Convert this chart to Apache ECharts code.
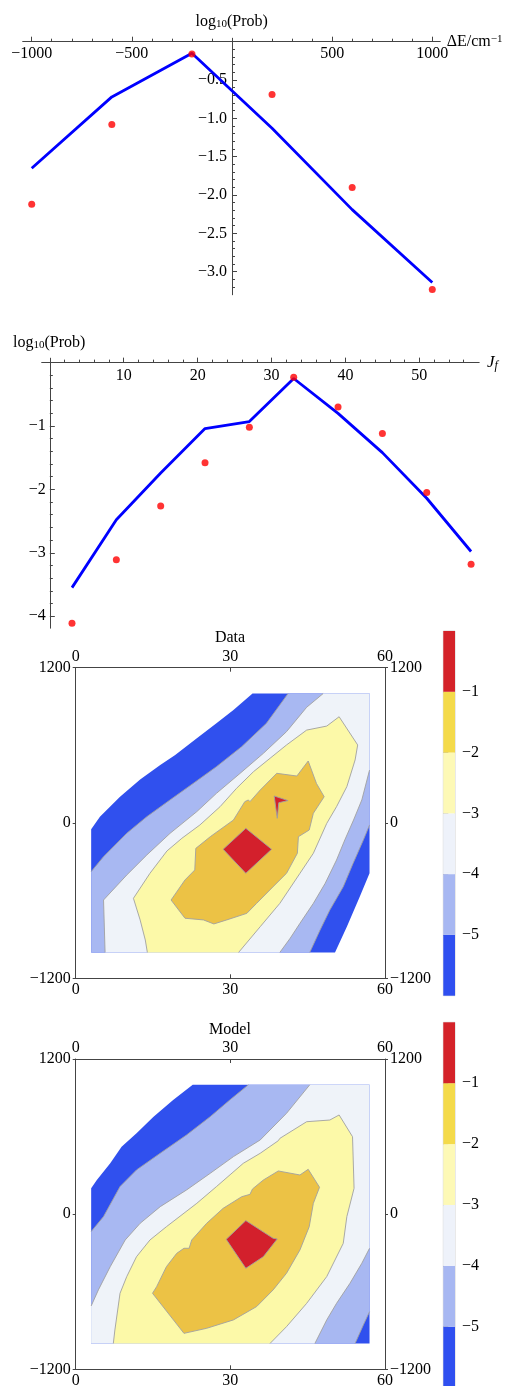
<!DOCTYPE html>
<html><head><meta charset="utf-8">
<script src="https://cdn.jsdelivr.net/npm/echarts@6/dist/echarts.min.js"></script>
<style>html,body{margin:0;padding:0;background:#fff}#c{width:505px;height:1386px}</style>
</head><body><div id="c"></div><script>
// ---------- Panel 1: log10(Prob) vs ΔE ----------
const dE = [-1000, -600, -200, 200, 600, 1000];
const dEModel = [-1.65, -0.72, -0.15, -1.13, -2.19, -3.14];
const dEData = [-2.12, -1.08, -0.16, -0.69, -1.90, -3.23];
const dETicksMajor = [-1000, -500, 500, 1000];
const dETicksMinor = [-900,-800,-700,-600,-400,-300,-200,-100,100,200,300,400,600,700,800,900];
const p1YMajor = [-3, -2.5, -2, -1.5, -1, -0.5];
const p1YMinor = [-3.2,-3.1,-2.9,-2.8,-2.7,-2.6,-2.4,-2.3,-2.2,-2.1,-1.9,-1.8,-1.7,-1.6,-1.4,-1.3,-1.2,-1.1,-0.9,-0.8,-0.7,-0.6,-0.4,-0.3,-0.2,-0.1];

// ---------- Panel 2: log10(Prob) vs J_f ----------
const Jf = [3, 9, 15, 21, 27, 33, 39, 45, 51, 57];
const JfModel = [-3.55, -2.48, -1.74, -1.04, -0.93, -0.25, -0.80, -1.42, -2.14, -2.98];
const JfData = [-4.11, -3.11, -2.26, -1.58, -1.02, -0.23, -0.70, -1.12, -2.05, -3.18];
const JTicksMajor = [10, 20, 30, 40, 50];
const JTicksMinor = [2,4,6,8,12,14,16,18,22,24,26,28,32,34,36,38,42,44,46,48,52,54,56];
const p2YMajor = [-4, -3, -2, -1];
const p2YMinor = [-3.8,-3.6,-3.4,-3.2,-2.8,-2.6,-2.4,-2.2,-1.8,-1.6,-1.4,-1.2,-0.8,-0.6,-0.4,-0.2];

// ---------- Contour plots (J, ΔE) ----------
const contourLevels = [-6, -5, -4, -3, -2, -1, 0];
const barTicks = [-5, -4, -3, -2, -1];
const fillColors = ['#3050ee', '#a8b8f2', '#eff3f9', '#fcf9a8', '#ecc245', '#d3202c'];
const barColors = ['#2f4ff0', '#a7b7f2', '#eef2fa', '#fdf9b6', '#f4da4a', '#d42229'];
const dataRange = {j0: 3, j1: 57, e0: -1000, e1: 1000};

// Data contours
const dataEdgeA = [[3,-49],[4.7,49],[8.6,203],[12.5,337],[16.4,448],[19.3,525],[23.5,654],[27.3,770],[30.6,873],[34.3,1000]];
const dataEdgeF = [[57,-389],[55.1,-569],[52.6,-801],[50.3,-1000]];
const dataLineB = [[3,-376],[5.4,-260],[9.9,-80],[13.8,49],[18.3,178],[22.8,306],[27.3,435],[32.2,590],[37.0,770],[41.2,1000]];
const dataLineG = [[57,-15],[55.8,-131],[53.8,-312],[51.9,-492],[49.3,-672],[47.4,-827],[45.4,-1000]];
const dataLineC = [[5.7,-1000],[5.4,-595],[9.9,-402],[13.8,-247],[18.3,-80],[23.5,88],[27.3,229],[31.9,384],[36.4,538],[40.9,706],[44.8,894],[48.0,1000]];
const dataLineH = [[57,409],[55.5,178],[53.9,23],[52.2,-131],[50.6,-286],[48.4,-466],[46.1,-621],[43.5,-775],[41.6,-891],[39.6,-1000]];
const dataLineD = [[13.9,-1000],[13.5,-904],[12.5,-749],[11.2,-582],[14.4,-389],[17.7,-216],[20.6,-118],[24.1,-15],[28.0,126],[31.2,268],[34.5,397],[37.7,500],[40.9,603],[44.8,718],[48.7,749],[51.1,821],[54.7,603],[54.2,487],[52.6,281],[50.6,126],[48.7,-3],[46.1,-234],[43.5,-389],[39.6,-621],[35.8,-801],[31.6,-1000]];
const dataLineE = [[18.5,-595],[21.2,-440],[23.1,-363],[23.3,-196],[26.1,-106],[30.6,23],[32.8,165],[33.5,178],[33.8,165],[35.8,255],[39.0,384],[42.9,363],[45.1,479],[46.7,306],[48.2,203],[46.1,75],[45.3,-54],[43.2,-106],[43.0,-234],[40.9,-389],[38.3,-492],[35.1,-621],[33.2,-698],[29.3,-749],[26.8,-780],[24.8,-749],[21.2,-736]];
const dataPeak = [[28.6,-203],[33.0,-41],[38.0,-203],[33.0,-389]];
const dataPeak2 = [[38.5,209],[41.2,173],[39.4,157],[39.1,36]];

// Model contours
const modelEdgeA = [[3,200],[4.1,264],[6.7,393],[8.9,522],[11.8,625],[15.1,754],[18.9,883],[22.7,1000]];
const modelEdgeF = null;
const modelLineB = [[3,-135],[5.4,-19],[8.6,213],[11.8,342],[16.4,471],[21.5,612],[26.1,754],[29.9,883],[33.5,1000]];
const modelLineG = [[57,-754],[55.8,-857],[54.2,-1000]];
const modelLineC = [[3,-710],[4.4,-586],[6.7,-406],[9.6,-200],[12.5,-71],[16.4,58],[21.5,187],[26.1,316],[30.6,445],[35.8,574],[40.9,780],[45.4,1000]];
const modelLineH = [[57,-264],[55.5,-380],[53.2,-535],[50.6,-690],[48.7,-818],[46.4,-1000]];
const modelLineD = [[7.3,-1000],[7.6,-896],[8.6,-612],[9.9,-483],[11.8,-329],[14.4,-200],[17.6,-97],[23.5,84],[27.3,213],[32.5,393],[35.8,471],[39.3,568],[39.6,586],[44.8,715],[49.3,728],[51.1,767],[53.7,599],[54.0,200],[52.6,-19],[51.9,-226],[48.7,-483],[44.8,-690],[40.9,-870],[37.7,-1000]];
const modelLineE = [[14.9,-612],[15.7,-561],[17.6,-406],[19.6,-303],[21.0,-264],[22.0,-264],[22.5,-200],[25.4,-71],[28.6,45],[32.2,135],[33.8,153],[34.3,195],[36.4,264],[39.3,334],[43.5,303],[45.1,347],[47.3,208],[46.1,84],[45.3,-97],[43.5,-277],[40.9,-457],[38.3,-586],[35.1,-715],[30.6,-818],[25.4,-883],[21.0,-922]];
const modelPeak = [[29.2,-195],[33.0,-50],[38.3,-187],[39.1,-192],[36.4,-329],[33.0,-419]];

// ---------- helpers ----------
const FONT = 'Liberation Serif';
const AX = '#444';
const LINE = '#a0a0a0';
const minus = v => String(v).replace('-', '\u2212');

function above(tl, br) {
  const r = dataRange;
  const pts = tl.slice();
  pts.push([r.j1, r.e1]);
  if (br) pts.push(...br); else pts.push([r.j1, r.e0]);
  if (tl[0][0] === r.j0) pts.push([r.j0, r.e0]);
  return pts;
}
function regions(c) {
  return [
    {band: 0, pts: above(c.A, c.F)},
    {band: 1, pts: above(c.B, c.G)},
    {band: 2, pts: above(c.C, c.H)},
    {band: 3, pts: c.D},
    {band: 4, pts: c.E},
    ...c.peaks.map(p => ({band: 5, pts: p}))
  ];
}
function strokes(c) {
  return [
    {pts: c.B, closed: false}, {pts: c.G, closed: false},
    {pts: c.C, closed: false}, {pts: c.H, closed: false},
    {pts: c.D, closed: false}, {pts: c.E, closed: true},
    ...c.peaks.map(p => ({pts: p, closed: true}))
  ];
}
const dataC = {A: dataEdgeA, F: dataEdgeF, B: dataLineB, G: dataLineG, C: dataLineC, H: dataLineH, D: dataLineD, E: dataLineE, peaks: [dataPeak, dataPeak2]};
const modelC = {A: modelEdgeA, F: modelEdgeF, B: modelLineB, G: modelLineG, C: modelLineC, H: modelLineH, D: modelLineD, E: modelLineE, peaks: [modelPeak]};

const grids = [], xAxes = [], yAxes = [], series = [];
const lab = (o) => Object.assign({fontFamily: FONT, fontSize: 16, color: '#000'}, o);

// axes crossing at the origin: x axis on top edge shifted down to y=0, y axis on left edge shifted right to x=0
function axisPanel(g, xr, yr, xMaj, xMin, yMaj, yMin, xFmt, yFmt, xMargin, yMargin) {
  const xOff = -(yr[1] / (yr[1] - yr[0])) * g.height;     // from top edge down to y=0
  const yOff = -((0 - xr[0]) / (xr[1] - xr[0])) * g.width; // from left edge right to x=0
  let main;
  [[xMaj, yMaj, 5, true], [xMin, yMin, 3, false]].forEach(([xt, yt, len, isMain]) => {
    grids.push(Object.assign({outerBoundsMode: 'none'}, g));
    const gi = grids.length - 1;
    xAxes.push({gridIndex: gi, type: 'value', min: xr[0], max: xr[1], position: 'top', offset: xOff, splitLine: {show: false},
      axisLine: {onZero: false, lineStyle: {color: AX, width: 1, opacity: isMain ? 1 : 0}},
      axisTick: {inside: false, length: len, customValues: xt, lineStyle: {color: AX}},
      axisLabel: isMain ? lab({inside: true, customValues: xt, margin: xMargin, formatter: xFmt}) : {show: false}});
    yAxes.push({gridIndex: gi, type: 'value', min: yr[0], max: yr[1], position: 'left', offset: yOff, splitLine: {show: false},
      axisLine: {onZero: false, lineStyle: {color: AX, width: 1, opacity: isMain ? 1 : 0}},
      axisTick: {inside: true, length: len, customValues: yt, lineStyle: {color: AX}},
      axisLabel: isMain ? lab({customValues: yt, margin: yMargin, formatter: yFmt}) : {show: false}});
    if (isMain) main = {x: xAxes.length - 1, y: yAxes.length - 1};
  });
  return main;
}

const p1 = axisPanel({left: 22.7, top: 38.25, width: 417.6, height: 256.5}, [-1045, 1040], [-3.3, 0.045],
  dETicksMajor, dETicksMinor, p1YMajor, p1YMinor, v => minus(v), v => minus(v.toFixed(1)), 4, 5);
const p2 = axisPanel({left: 41.7, top: 358.2, width: 437.5, height: 270}, [-1.1, 58.1], [-4.19, 0.07],
  JTicksMajor, JTicksMinor, p2YMajor, p2YMinor, v => String(v), v => minus(v), 5, 4);

function linePanel(ax, xs, model, data) {
  series.push({type: 'line', xAxisIndex: ax.x, yAxisIndex: ax.y, data: xs.map((x, i) => [x, model[i]]),
    symbol: 'none', lineStyle: {color: '#0000ff', width: 2.8}, z: 3, animation: false});
  series.push({type: 'scatter', xAxisIndex: ax.x, yAxisIndex: ax.y, data: xs.map((x, i) => [x, data[i]]),
    symbolSize: 7, itemStyle: {color: '#ff0000'}, z: 4, animation: false});
}
linePanel(p1, dE, dEModel, dEData);
linePanel(p2, Jf, JfModel, JfData);

function contourPanel(frame, bar, c) {
  grids.push({outerBoundsMode: 'none', left: frame.left, top: frame.top, width: frame.width, height: frame.height});
  const gi = grids.length - 1;
  const xb = {gridIndex: gi, type: 'value', min: 0, max: 60, interval: 30, splitLine: {show: false},
    axisLine: {onZero: false, lineStyle: {color: AX}},
    axisTick: {inside: true, length: 4, lineStyle: {color: AX}},
    axisLabel: lab({margin: 3})};
  xAxes.push(Object.assign({position: 'bottom'}, xb));
  const xi = xAxes.length - 1;
  xAxes.push(Object.assign({position: 'top'}, xb));
  const yb = {gridIndex: gi, type: 'value', min: -1200, max: 1200, interval: 1200, splitLine: {show: false},
    axisLine: {onZero: false, lineStyle: {color: AX}},
    axisTick: {inside: false, length: 3, lineStyle: {color: AX}},
    axisLabel: lab({margin: 5, formatter: v => minus(v)})};
  yAxes.push(Object.assign({position: 'left'}, yb));
  const yi = yAxes.length - 1;
  yAxes.push(Object.assign({position: 'right'}, yb));

  const regs = regions(c);
  series.push({type: 'custom', coordinateSystem: 'cartesian2d', xAxisIndex: xi, yAxisIndex: yi, silent: true, animation: false, z: 2,
    data: regs.map((r, i) => [i]),
    renderItem: (params, api) => {
      const r = regs[params.dataIndex];
      return {type: 'polygon', shape: {points: r.pts.map(p => api.coord(p))}, style: {fill: fillColors[r.band], stroke: null}};
    }});
  const sts = strokes(c);
  series.push({type: 'custom', coordinateSystem: 'cartesian2d', xAxisIndex: xi, yAxisIndex: yi, silent: true, animation: false, z: 3,
    data: sts.map((r, i) => [i]),
    renderItem: (params, api) => {
      const s = sts[params.dataIndex];
      return {type: s.closed ? 'polygon' : 'polyline', shape: {points: s.pts.map(p => api.coord(p))},
        style: {fill: null, stroke: LINE, lineWidth: 0.9}};
    }});

  // colour bar
  grids.push({outerBoundsMode: 'none', left: bar.left, top: bar.top, width: bar.width, height: bar.height, show: true, borderColor: '#d4d4d4', borderWidth: 1, backgroundColor: 'transparent'});
  const bi = grids.length - 1;
  xAxes.push({gridIndex: bi, type: 'value', min: 0, max: 1, show: false});
  const bxi = xAxes.length - 1;
  yAxes.push({gridIndex: bi, type: 'value', min: contourLevels[0], max: contourLevels[contourLevels.length - 1], position: 'right',
    splitLine: {show: false}, axisLine: {show: false},
    axisTick: {show: true, length: 5, customValues: barTicks, lineStyle: {color: '#aaa'}},
    axisLabel: lab({customValues: barTicks, margin: 7, formatter: v => minus(v)})});
  const byi = yAxes.length - 1;
  const bands = contourLevels.slice(0, -1).map((lo, i) => [lo, contourLevels[i + 1]]);
  series.push({type: 'custom', coordinateSystem: 'cartesian2d', xAxisIndex: bxi, yAxisIndex: byi, silent: true, animation: false,
    data: bands.map((b, i) => [i]),
    renderItem: (params, api) => {
      const b = bands[params.dataIndex];
      const q1 = api.coord([0, b[1]]), q2 = api.coord([1, b[0]]);
      return {type: 'rect', shape: {x: q1[0], y: q1[1], width: q2[0] - q1[0], height: q2[1] - q1[1]},
        style: {fill: barColors[params.dataIndex]}};
    }});
}
contourPanel({left: 75.7, top: 667.7, width: 309.3, height: 310.6}, {left: 443.3, top: 631, width: 11.7, height: 364.7}, dataC);
contourPanel({left: 75.7, top: 1059, width: 309.3, height: 310.3}, {left: 443.3, top: 1022.3, width: 11.7, height: 365.3}, modelC);

// ---------- texts ----------
const rich = {
  a: {fontFamily: FONT, fontSize: 16, lineHeight: 16, fill: '#000', verticalAlign: 'middle'},
  s: {fontFamily: FONT, fontSize: 11, lineHeight: 11, fill: '#000', padding: [8, 0, 0, 0], verticalAlign: 'bottom'},
  u: {fontFamily: FONT, fontSize: 11, lineHeight: 11, fill: '#000', padding: [0, 0, 8, 0], verticalAlign: 'top'},
  i: {fontFamily: FONT, fontSize: 17, lineHeight: 17, fontStyle: 'italic', fill: '#000', verticalAlign: 'middle'},
  si: {fontFamily: FONT, fontSize: 12, lineHeight: 12, fontStyle: 'italic', fill: '#000', padding: [8, 0, 0, 0], verticalAlign: 'bottom'}
};
const txt = (x, y, text, align) => ({type: 'text', x, y, silent: true,
  style: {text, rich, align: align || 'center', verticalAlign: 'middle', fontFamily: FONT, fontSize: 16, fill: '#000'}});
const graphic = [
  txt(231.7, 21.7, '{a|log}{s|10}{a|(Prob)}'),
  txt(446.7, 42, '{a|\u0394E/cm}{u|\u22121}', 'left'),
  txt(13, 342.7, '{a|log}{s|10}{a|(Prob)}', 'left'),
  txt(487, 363, '{i|J}{si|f}', 'left'),
  txt(230, 637.3, '{a|Data}'),
  txt(230, 1029.3, '{a|Model}')
];

const chart = echarts.init(document.getElementById('c'), null, {renderer: 'canvas'});
chart.setOption({animation: false, backgroundColor: '#fff', grid: grids, xAxis: xAxes, yAxis: yAxes, series, graphic});
</script></body></html>
